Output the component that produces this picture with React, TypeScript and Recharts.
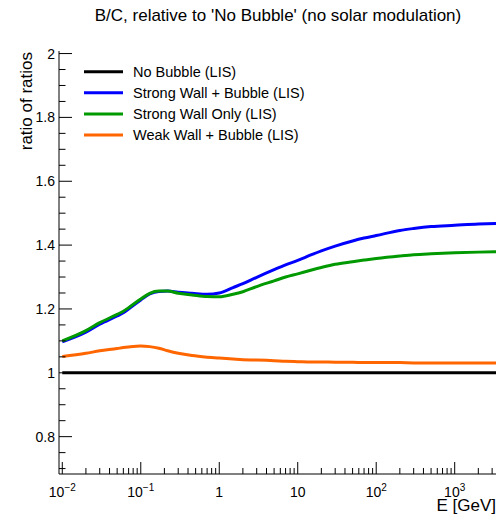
import { LineChart, Line, XAxis, YAxis, ReferenceArea } from "recharts";

// Energy grid [GeV] and ratio values
const energy = [
  0.01, 0.02, 0.03, 0.05, 0.06, 0.07, 0.1, 0.13, 0.17, 0.22, 0.3, 0.45, 0.7, 1, 1.5, 2, 3, 5,
  7, 10, 15, 20, 30, 50, 70, 100, 200, 300, 500, 1000, 2000, 3360,
];
const noBubble = [
  1, 1, 1, 1, 1, 1, 1, 1, 1, 1, 1, 1, 1, 1, 1, 1, 1, 1, 1, 1, 1, 1, 1, 1, 1, 1, 1, 1, 1, 1, 1,
  1,
];
const strongWallBubble = [
  1.097, 1.127, 1.152, 1.178, 1.188, 1.2, 1.228, 1.247, 1.255, 1.256, 1.252, 1.249, 1.246,
  1.25, 1.267, 1.279, 1.299, 1.323, 1.338, 1.352, 1.37, 1.382, 1.397, 1.413, 1.422, 1.43,
  1.446, 1.452, 1.458, 1.462, 1.466, 1.468,
];
const strongWallOnly = [
  1.1, 1.132, 1.157, 1.183, 1.193, 1.204, 1.231, 1.249, 1.256, 1.256, 1.249, 1.244, 1.239,
  1.238, 1.246, 1.254, 1.27, 1.288, 1.3, 1.31, 1.322, 1.33, 1.34, 1.348, 1.353, 1.358, 1.366,
  1.37, 1.373, 1.376, 1.378, 1.379,
];
const weakWallBubble = [
  1.051, 1.061, 1.069, 1.076, 1.079, 1.081, 1.084, 1.082, 1.077, 1.069, 1.061, 1.054, 1.049,
  1.046, 1.043, 1.041, 1.04, 1.038, 1.036, 1.035, 1.034, 1.034, 1.033, 1.033, 1.032, 1.032,
  1.032, 1.031, 1.031, 1.031, 1.031, 1.031,
];

const xMajorTicks = [0.01, 0.1, 1, 10, 100, 1000];
const xMajorLabels = [
  { base: "10", exp: "\u22122" },
  { base: "10", exp: "\u22121" },
  { base: "1", exp: "" },
  { base: "10", exp: "" },
  { base: "10", exp: "2" },
  { base: "10", exp: "3" },
];
const xMinorTicks = [
  0.02, 0.03, 0.04, 0.05, 0.06, 0.07, 0.08, 0.09,
  0.2, 0.3, 0.4, 0.5, 0.6, 0.7, 0.8, 0.9,
  2, 3, 4, 5, 6, 7, 8, 9,
  20, 30, 40, 50, 60, 70, 80, 90,
  200, 300, 400, 500, 600, 700, 800, 900,
  2000, 3000,
];
const yMajorTicks = [0.8, 1, 1.2, 1.4, 1.6, 1.8, 2];
const yMajorLabels = ["0.8", "1", "1.2", "1.4", "1.6", "1.8", "2"];
const yMinorTicks = [
  0.7, 0.75, 0.85, 0.9, 0.95, 1.05, 1.1, 1.15, 1.25, 1.3, 1.35, 1.45, 1.5, 1.55, 1.65, 1.7,
  1.75, 1.85, 1.9, 1.95,
];

const series = [
  { key: "noBubble", name: "No Bubble (LIS)", color: "#000000" },
  { key: "strongWallBubble", name: "Strong Wall + Bubble (LIS)", color: "#0000ff" },
  { key: "strongWallOnly", name: "Strong Wall Only (LIS)", color: "#009900" },
  { key: "weakWallBubble", name: "Weak Wall + Bubble (LIS)", color: "#ff6600" },
];

const chartData = energy.map((e, i) => ({
  e,
  noBubble: noBubble[i],
  strongWallBubble: strongWallBubble[i],
  strongWallOnly: strongWallOnly[i],
  weakWallBubble: weakWallBubble[i],
}));

const FONT = "'Liberation Sans', Arial, Helvetica, sans-serif";

const XTick = ({ x, y, payload }: any) => {
  const idx = xMajorTicks.findIndex((t) => Math.abs(t - payload.value) < t * 1e-6);
  const major = idx >= 0;
  return (
    <g>
      <line x1={x} x2={x} y1={y} y2={y - (major ? 12 : 6)} stroke="#000" strokeWidth={1} />
      {major && (
        <text x={x} y={y + 23} textAnchor="middle" fontSize={14} fontFamily={FONT} fill="#000">
          <tspan>{xMajorLabels[idx].base}</tspan>
          {xMajorLabels[idx].exp && (
            <tspan dy={-6} fontSize={10}>
              {xMajorLabels[idx].exp}
            </tspan>
          )}
        </text>
      )}
    </g>
  );
};

const YTick = ({ x, y, payload }: any) => {
  const idx = yMajorTicks.findIndex((t) => Math.abs(t - payload.value) < 1e-6);
  const major = idx >= 0;
  return (
    <g>
      <line x1={x} x2={x + (major ? 13 : 6.5)} y1={y} y2={y} stroke="#000" strokeWidth={1} />
      {major && (
        <text x={x - 4} y={y} dy="0.36em" textAnchor="end" fontSize={14} fontFamily={FONT} fill="#000">
          {yMajorLabels[idx]}
        </text>
      )}
    </g>
  );
};

export default function App() {
  return (
    <div style={{ position: "absolute", left: 0, top: 0, width: 503, height: 525, background: "#fff" }}>
      <LineChart
        width={503}
        height={525}
        data={chartData}
        margin={{ top: 51, right: 7, left: 0, bottom: 0 }}
      >
        <XAxis
          dataKey="e"
          type="number"
          scale="log"
          domain={[0.00908, 3360]}
          allowDataOverflow
          ticks={[...xMajorTicks, ...xMinorTicks]}
          interval={0}
          height={51}
          tickSize={0}
          tickMargin={0}
          tickLine={false}
          tick={<XTick />}
          stroke="#000"
        />
        <YAxis
          type="number"
          domain={[0.683, 2.008]}
          allowDataOverflow
          ticks={[...yMajorTicks, ...yMinorTicks]}
          interval={0}
          width={59}
          tickSize={0}
          tickMargin={0}
          tickLine={false}
          tick={<YTick />}
          stroke="#000"
        />
        <ReferenceArea fill="none" stroke="#000" strokeWidth={1} ifOverflow="visible" />
        {series.map((s) => (
          <Line
            key={s.key}
            dataKey={s.key}
            type="monotone"
            stroke={s.color}
            strokeWidth={3}
            dot={false}
            isAnimationActive={false}
          />
        ))}
      </LineChart>

      <svg
        width={503}
        height={525}
        style={{ position: "absolute", left: 0, top: 0, pointerEvents: "none" }}
        fontFamily={FONT}
      >
        <text x={278} y={21} textAnchor="middle" fontSize={17} fill="#000">
          B/C, relative to 'No Bubble' (no solar modulation)
        </text>
        <text x={496} y={511} textAnchor="end" fontSize={17} fill="#000">
          E [GeV]
        </text>
        <text
          transform="translate(31.5, 52) rotate(-90)"
          textAnchor="end"
          fontSize={17}
          fill="#000"
        >
          ratio of ratios
        </text>
        {series.map((s, i) => {
          const cy = 71.7 + i * 21.1;
          return (
            <g key={s.key}>
              <line x1={84} x2={123} y1={cy} y2={cy} stroke={s.color} strokeWidth={3} />
              <text x={133} y={cy} dy="0.36em" fontSize={14.5} fill="#000">
                {s.name}
              </text>
            </g>
          );
        })}
      </svg>
    </div>
  );
}
